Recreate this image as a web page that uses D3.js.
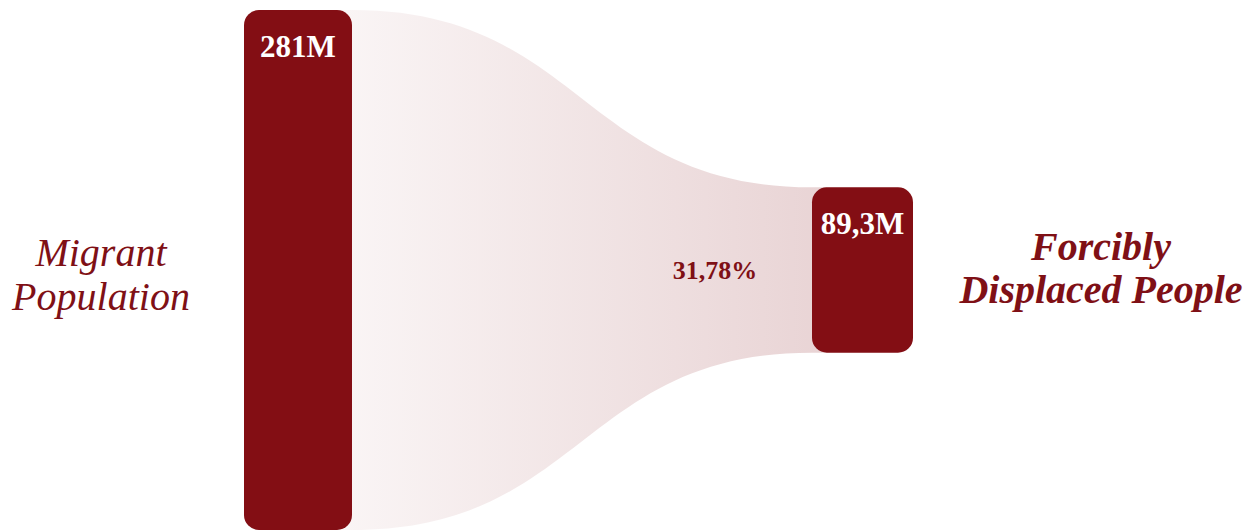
<!DOCTYPE html>
<html>
<head>
<meta charset="utf-8">
<script src="https://cdnjs.cloudflare.com/ajax/libs/d3/7.8.5/d3.min.js"></script>
<style>
  html, body { margin: 0; padding: 0; background: #ffffff; }
  svg { display: block; }
</style>
</head>
<body>
<div class="funnel"></div>
<script>
// data
var stages = ['Migrant Population', 'Forcibly Displaced People'];
var stageLines = [['Migrant', 'Population'], ['Forcibly', 'Displaced People']];
var values = [281, 89.3];
var valueLabels = ['281M', '89,3M'];

var width = 1260;
var height = 532;
var barColor = '#830e14';
var textColor = '#7f1016';

var locale = d3.formatLocale({ decimal: ',', thousands: '.', grouping: [3], currency: ['', ''] });
var pct = locale.format('.2%');

var svg = d3.select('.funnel')
  .append('svg')
  .attr('width', width)
  .attr('height', height);

// horizontal placement of the two bars
var x = d3.scaleOrdinal().domain(stages).range([244, 812]);
var barW = d3.scaleOrdinal().domain(stages).range([108, 101]);

// bar height from value
var h = d3.scaleLinear().domain([0, values[0]]).range([0, 520]);
var cy = 270;
var radius = 15;

var defs = svg.append('defs');
var grad = defs.append('linearGradient')
  .attr('id', 'flowGrad')
  .attr('x1', '0%').attr('x2', '100%')
  .attr('y1', '0%').attr('y2', '0%');
grad.append('stop').attr('offset', '0%').attr('stop-color', barColor).attr('stop-opacity', 0.04);
grad.append('stop').attr('offset', '100%').attr('stop-color', barColor).attr('stop-opacity', 0.18);

// flow between bars
var x0 = x(stages[0]) + barW(stages[0]) - radius;
var x1 = x(stages[1]) + radius;
var xm = (x(stages[0]) + barW(stages[0]) + x(stages[1])) / 2;
var t0 = cy - h(values[0]) / 2, b0 = cy + h(values[0]) / 2;
var t1 = cy - h(values[1]) / 2, b1 = cy + h(values[1]) / 2;

var p = d3.path();
p.moveTo(x0, t0);
p.lineTo(x(stages[0]) + barW(stages[0]), t0);
p.bezierCurveTo(xm, t0, xm, t1, x(stages[1]), t1);
p.lineTo(x1, t1);
p.lineTo(x1, b1);
p.lineTo(x(stages[1]), b1);
p.bezierCurveTo(xm, b1, xm, b0, x(stages[0]) + barW(stages[0]), b0);
p.lineTo(x0, b0);
p.closePath();

svg.append('path')
  .attr('class', 'flow')
  .attr('d', p.toString())
  .style('fill', 'url(#flowGrad)');

// bars
svg.append('g')
  .attr('class', 'bars')
  .selectAll('rect')
  .data(stages)
  .enter().append('rect')
  .attr('x', function(d) { return x(d); })
  .attr('y', function(d, i) { return cy - h(values[i]) / 2; })
  .attr('width', function(d) { return barW(d); })
  .attr('height', function(d, i) { return h(values[i]); })
  .attr('rx', radius)
  .style('fill', barColor);

// value labels inside bars
svg.append('g')
  .selectAll('text')
  .data(stages)
  .enter().append('text')
  .attr('x', function(d) { return x(d) + barW(d) / 2; })
  .attr('y', function(d, i) { return cy - h(values[i]) / 2 + 47; })
  .attr('text-anchor', 'middle')
  .style('font-family', '"Liberation Serif", serif')
  .style('font-weight', 'bold')
  .style('font-size', '31px')
  .style('fill', '#ffffff')
  .text(function(d, i) { return valueLabels[i]; });

// share label on the flow
svg.append('text')
  .attr('x', 715)
  .attr('y', 279)
  .attr('text-anchor', 'middle')
  .style('font-family', '"Liberation Serif", serif')
  .style('font-weight', 'bold')
  .style('font-size', '26px')
  .style('fill', textColor)
  .text(pct(values[1] / values[0]));

// stage names
var nameX = [101, 1101];
var nameY = [[266, 310], [260, 303]];
stages.forEach(function(s, i) {
  var t = svg.append('text')
    .attr('text-anchor', 'middle')
    .style('font-family', '"Liberation Serif", serif')
    .style('font-style', 'italic')
    .style('font-weight', i === 1 ? 'bold' : 'normal')
    .style('font-size', '40px')
    .style('fill', textColor);
  stageLines[i].forEach(function(line, j) {
    t.append('tspan')
      .attr('x', nameX[i])
      .attr('y', nameY[i][j])
      .text(line);
  });
});
</script>
</body>
</html>
